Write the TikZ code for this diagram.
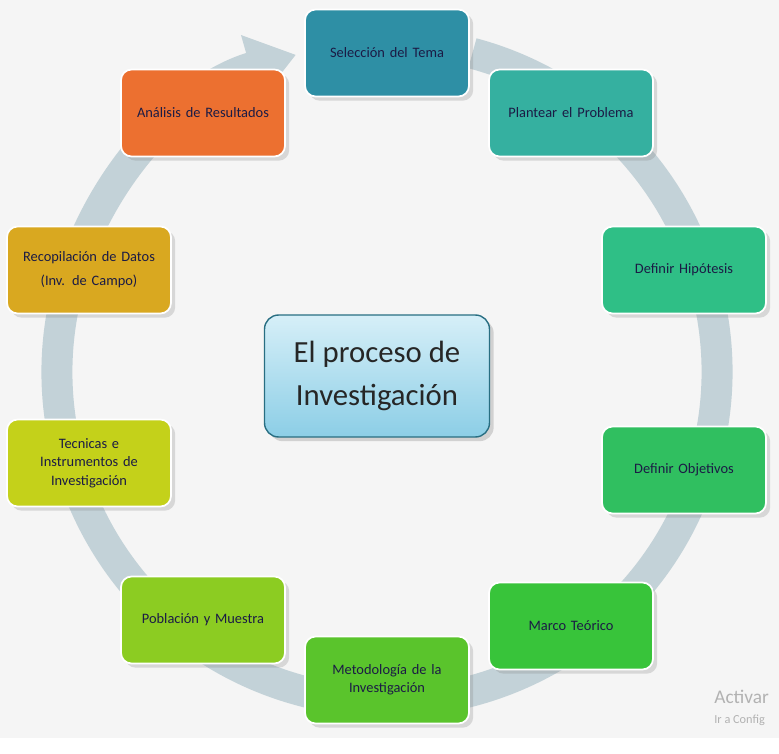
\documentclass[tikz,border=0pt]{standalone}
\usepackage{fontspec}
\setmainfont{Carlito}
\usetikzlibrary{arrows.meta, positioning, shadows}
\definecolor{ringcol}{HTML}{C3D2D8}
\definecolor{txtcol}{HTML}{1B1B45}
\definecolor{c1}{HTML}{2E8FA5}
\definecolor{c2}{HTML}{35B0A0}
\definecolor{c3}{HTML}{2FBF86}
\definecolor{c4}{HTML}{30BF60}
\definecolor{c5}{HTML}{38C43A}
\definecolor{c6}{HTML}{5AC42C}
\definecolor{c7}{HTML}{8CCC22}
\definecolor{c8}{HTML}{C4D11A}
\definecolor{c9}{HTML}{D9A820}
\definecolor{c10}{HTML}{EC7030}
\definecolor{cborder}{HTML}{286E82}
\definecolor{ctop}{HTML}{D6EFF8}
\definecolor{cbot}{HTML}{8CCEE6}
\begin{document}
\begin{tikzpicture}[x=0.02cm, y=-0.02cm,
    stage/.style = {rectangle, rounded corners=6pt, minimum width=3.28cm, minimum height=1.74cm, text width=3cm, align=center, draw=white, line width=1pt, font=\fontsize{8.2}{10.5}\selectfont, text=txtcol, drop shadow={opacity=0.25}},
    ring/.style = {line width=0.62cm, ringcol, -{Triangle[width=1.3cm,length=0.95cm]}}]
    % background
    \fill[gray!8] (0,0) rectangle (779,738);
    % ring
    \draw [ring] (387,372) ++(-75:330) arc[start angle=-75, end angle=254, radius=330];
    % Nodes
    \node (tema) [stage, fill=c1] at (387,53) {Selección del Tema};
    \node (problema) [stage, fill=c2] at (571,113) {Plantear el Problema};
    \node (hipotesis) [stage, fill=c3] at (684,270) {Definir Hipótesis};
    \node (objetivos) [stage, fill=c4] at (684,470) {Definir Objetivos};
    \node (marco) [stage, fill=c5] at (571,626) {Marco Teórico};
    \node (metodo) [stage, fill=c6] at (387,680) {Metodología de la\\Investigación};
    \node (poblacion) [stage, fill=c7] at (203,620) {Población y Muestra};
    \node (tecnicas) [stage, fill=c8] at (89,463) {Tecnicas e\\Instrumentos de\\Investigación};
    \node (datos) [stage, fill=c9] at (89,270) {Recopilación de Datos\\[3pt](Inv. de Campo)};
    \node (analisis) [stage, fill=c10] at (203,113) {Análisis de Resultados};
    % center
    \node (centro) [rectangle, rounded corners=8pt, minimum width=4.5cm, minimum height=2.44cm, align=center, draw=cborder, line width=0.8pt, top color=ctop, bottom color=cbot, font=\fontsize{17.5}{24}\selectfont, text=black!85, drop shadow={opacity=0.3}] at (377,376) {El proceso de\\Investigación};
    % watermark
    \node (activar) [anchor=north west, gray!60, font=\fontsize{11}{11}\selectfont, inner sep=0pt] at (714,690) {Activar};
    \node (config) [anchor=north west, gray!60, font=\fontsize{7}{7}\selectfont, inner sep=0pt] at (714,715) {Ir a Config};
\end{tikzpicture}
\end{document}
